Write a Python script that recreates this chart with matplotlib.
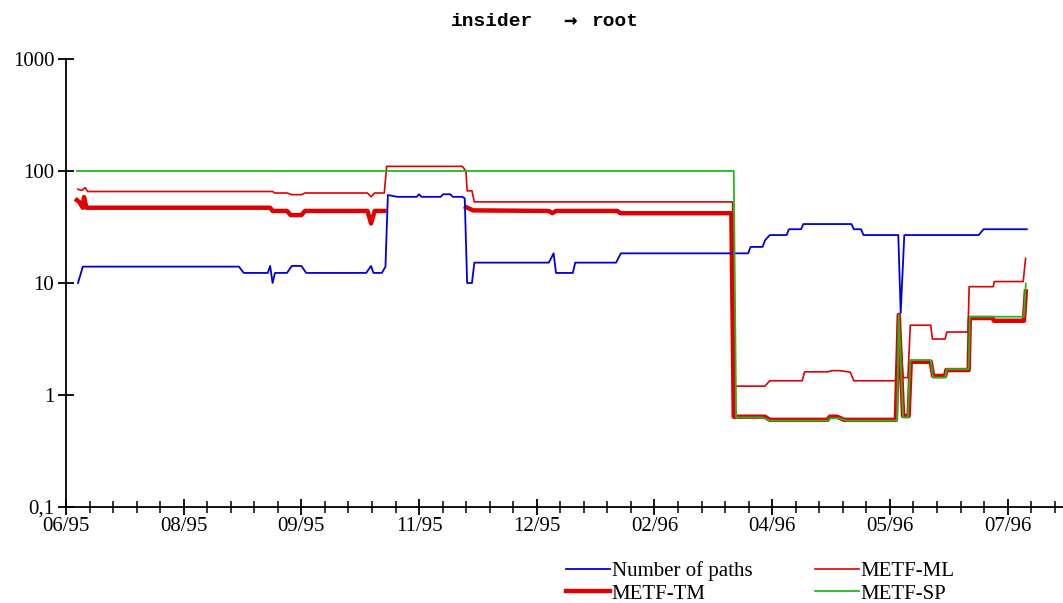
import numpy as np
import matplotlib.pyplot as plt
from matplotlib.ticker import MultipleLocator, FixedLocator, FixedFormatter

# eje x en dias desde 06/95 (una etiqueta cada 49 dias)
etiquetas_x = ['06/95', '08/95', '09/95', '11/95', '12/95', '02/96', '04/96', '05/96', '07/96']
paso_x = 49
etiquetas_y = ['0,1', '1', '10', '100', '1000']
valores_y = [0.1, 1, 10, 100, 1000]

# Number of paths
paths_x = [5, 7, 72, 74, 84, 85, 86, 87, 92, 94, 98, 100, 125, 127, 128, 131.5, 133, 134,
           138, 146, 147, 148, 156, 157, 160, 161, 165, 166, 167, 169, 170, 201, 203, 204,
           211, 212, 229, 231, 284, 285, 290, 291, 293, 300, 301, 306, 307, 327, 328, 331,
           332, 346.5, 347.5, 349, 380, 382, 400]
paths_y = [10, 14, 14, 12.3, 12.3, 14.2, 10, 12.3, 12.3, 14.2, 14.2, 12.3, 12.3, 14.2, 12.3,
           12.3, 14, 61, 58.8, 58.8, 62, 58.8, 58.8, 62, 62, 58.8, 58.8, 57, 10, 10, 15.2,
           15.2, 18.4, 12.3, 12.3, 15.2, 15.2, 18.4, 18.4, 21, 21, 24, 26.8, 26.8, 30.2, 30.2,
           33.6, 33.6, 30.2, 30.2, 26.8, 26.8, 5.4, 26.8, 26.8, 30.2, 30.2]

# METF-ML
ml_x = [5, 6.5, 8, 9, 86, 87, 92, 94, 98, 99.5, 125.5, 127, 128.5, 132.5, 133.5, 165, 166.5,
        167, 169, 170, 277.5, 278.5, 291, 293, 306.5, 307.5, 317, 319, 322, 326.5, 328,
        345.5, 346.7, 348.5, 350.5, 351.5, 360, 360.7, 366, 366.7, 375.5, 376, 386, 386.5,
        398.5, 399.5]
ml_y = [68.7, 67, 71, 65.6, 65.6, 63.6, 63.6, 61.5, 61.5, 63.6, 63.6, 58.8, 63.6, 63.6, 110,
        110, 100, 66.5, 66.5, 53, 53, 1.2, 1.2, 1.34, 1.34, 1.61, 1.61, 1.65, 1.65, 1.6, 1.34,
        1.34, 5.2, 1.43, 1.43, 4.2, 4.2, 3.16, 3.16, 3.65, 3.65, 9.27, 9.27, 10.3, 10.3, 16.6]

# METF-TM (sin datos entre 11/95 y mediados de 11/95)
tm_x = [4.5, 5.5, 7, 7.5, 8.5, 85, 86, 92, 93.5, 98, 99.5, 125.5, 127, 128.5, 132.5, 150,
        166.5, 169.5, 201, 202.5, 204, 229.5, 230.8, 277, 278, 291, 293, 317, 318, 321, 324,
        345.5, 346.7, 348.5, 350.8, 351.7, 360, 361, 366, 366.5, 375.8, 376.3, 385.8, 386.3,
        398.8, 399.6]
tm_y = [55, 53, 47, 58.5, 47, 47, 44, 44, 40.4, 40.4, 44, 44, 34, 44, 44, np.nan,
        47.6, 44.5, 44, 42, 44, 44, 42, 42, 0.64, 0.64, 0.6, 0.6, 0.64, 0.64, 0.6,
        0.6, 5.2, 0.65, 0.65, 1.98, 1.98, 1.48, 1.48, 1.67, 1.67, 4.87, 4.87, 4.6,
        4.6, 8.4]

# METF-SP
sp_x = [4.5, 278, 279, 290, 293, 317, 318, 322, 325, 346, 346.7, 348.5, 350.5, 351.5, 360,
        361, 366, 366.7, 375.8, 376.3, 398.8, 399.6]
sp_y = [100, 100, 0.63, 0.63, 0.59, 0.59, 0.62, 0.62, 0.59, 0.59, 5.2, 0.63, 0.63, 2.05,
        2.05, 1.43, 1.43, 1.7, 1.7, 5.0, 5.0, 9.9]

plt.rcParams['font.family'] = ['Liberation Serif', 'DejaVu Serif']

fig = plt.figure(figsize=(10.63, 6.03), dpi=100)
ax = fig.add_axes([66 / 1063, 96 / 603, 997 / 1063, 448 / 603])

ax.plot(paths_x, paths_y, color='#0000dd', lw=1.3, label='Number of paths', zorder=3)
ax.plot(tm_x, tm_y, color='#e00000', lw=3.2, label='METF-TM', zorder=2)
ax.plot(ml_x, ml_y, color='#e00000', lw=1.2, label='METF-ML', zorder=4)
ax.plot(sp_x, sp_y, color='#22b822', lw=1.3, label='METF-SP', zorder=5)

ax.set_yscale('log')
ax.set_ylim(0.1, 1000)
ax.set_xlim(0, 997 / 2.402)
ax.yaxis.set_major_locator(FixedLocator(valores_y))
ax.yaxis.set_major_formatter(FixedFormatter(etiquetas_y))
ax.yaxis.set_minor_locator(FixedLocator([]))
ax.xaxis.set_major_locator(FixedLocator([i * paso_x for i in range(len(etiquetas_x))]))
ax.xaxis.set_major_formatter(FixedFormatter(etiquetas_x))
ax.xaxis.set_minor_locator(MultipleLocator(paso_x / 5))

for s in ['top', 'right']:
    ax.spines[s].set_visible(False)
for s in ['left', 'bottom']:
    ax.spines[s].set_linewidth(1.3)
    ax.spines[s].set_clip_on(False)

ax.tick_params(axis='both', which='major', direction='inout', length=11, width=1.3,
               labelsize=15, color='black')
ax.tick_params(axis='x', which='minor', direction='inout', length=8, width=1.1)
ax.tick_params(axis='x', which='major', pad=2)
ax.tick_params(axis='y', which='major', pad=3)

# titulo en tres partes para que la flecha salga grande
mono = ['Liberation Mono', 'DejaVu Sans Mono']
ty = 1 - 21 / 603
fig.text(533 / 1063, ty, 'insider', ha='right', va='center', fontsize=14,
         fontweight='bold', family=mono)
fig.text(570 / 1063, ty, '\u2192', ha='center', va='center', fontsize=16,
         fontweight='bold', family=['DejaVu Sans Mono'])
fig.text(591 / 1063, ty, 'root', ha='left', va='center', fontsize=14,
         fontweight='bold', family=mono)

ax.legend(ncol=2, loc='upper left', bbox_to_anchor=(566 / 1063, 1 - 561 / 603),
          bbox_transform=fig.transFigure, frameon=False, fontsize=15,
          handlelength=2.1, handletextpad=0.1, columnspacing=3.0, labelspacing=0.15,
          borderaxespad=0, borderpad=0)

fig.savefig('out.png', dpi=100)
